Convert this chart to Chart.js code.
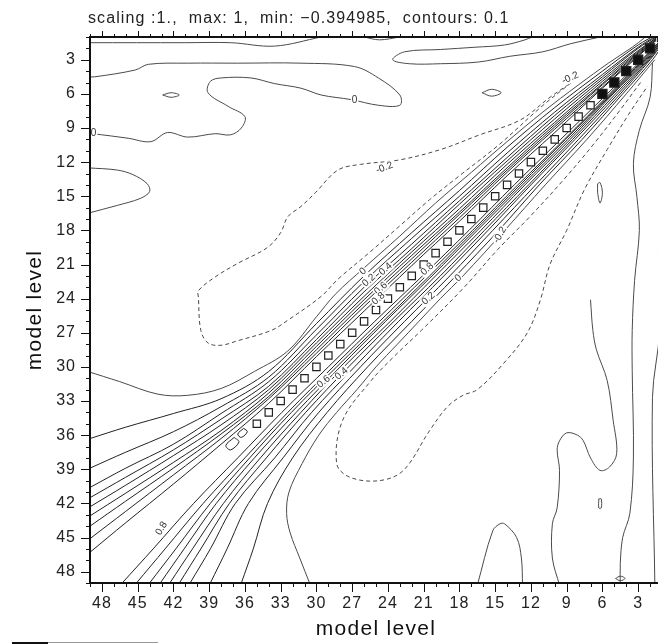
<!DOCTYPE html>
<html>
<head>
<meta charset="utf-8">
<script src="https://cdn.jsdelivr.net/npm/chart.js@4.4.1/dist/chart.umd.min.js"></script>
<style>
  html, body { margin: 0; padding: 0; overflow: hidden; background: #fff; }
  canvas { display: block; }
</style>
</head>
<body>
<canvas id="chart" width="670" height="644"></canvas>
<script>
var titleText = "scaling :1.,  max: 1,  min: \u22120.394985,  contours: 0.1";
var axisTitle = "model level";
var levelTicks = [3, 6, 9, 12, 15, 18, 21, 24, 27, 30, 33, 36, 39, 42, 45, 48];

// grid points on the diagonal (value 1)
var diagLevels = [1, 2, 3, 4, 5, 6, 7, 8, 9, 10, 11, 12, 13, 14, 15, 16, 17, 18,
  19, 20, 21, 22, 23, 24, 25, 26, 27, 28, 29, 30, 31, 32, 33, 34, 35];
var diagFilled = [1, 2, 3, 4, 5, 6];

// band contours 0.9 .. 0.1, one row per value, crossing level at each band row
var bandRows = [1.5, 3, 6, 10, 14, 18, 22, 26, 30, 34, 38, 42, 46, 49];
var bandValues = [0.9, 0.8, 0.7, 0.6, 0.5, 0.4, 0.3, 0.2, 0.1];
// above the diagonal: x = band row, y = crossing
var upperCross = [
  [1.3, 2.7, 5.5, 9.4, 13.2, 17.2, 21.1, 25.1, 29.1, 33.2, 36.8, 40.3, 43.7, 46.3],
  [1.3, 2.6, 5.4, 9.1, 12.9, 16.9, 20.8, 24.7, 28.8, 32.8, 36.3, 39.5, 42.7, 45.1],
  [1.2, 2.5, 5.2, 8.9, 12.7, 16.6, 20.5, 24.4, 28.5, 32.6, 35.9, 38.9, 41.8, 44.0],
  [1.2, 2.4, 5.1, 8.7, 12.5, 16.4, 20.2, 24.1, 28.2, 32.3, 35.6, 38.4, 41.1, 43.1],
  [1.1, 2.3, 4.9, 8.5, 12.2, 16.1, 19.9, 23.8, 27.9, 32.0, 35.1, 37.8, 40.4, 42.3],
  [1.1, 2.2, 4.7, 8.2, 11.9, 15.7, 19.6, 23.4, 27.6, 31.7, 34.6, 37.3, 39.7, 41.5],
  [1.0, 2.0, 4.5, 7.9, 11.6, 15.4, 19.2, 23.0, 27.2, 31.3, 34.1, 36.8, 38.9, 40.6],
  [0.9, 1.9, 4.3, 7.6, 11.2, 15.0, 18.7, 22.5, 26.7, 30.9, 33.5, 35.7, 37.5, 38.9],
  [0.8, 1.7, 4.0, 7.2, 10.7, 14.5, 18.2, 22.0, 26.2, 30.4, 32.8, 34.1, 35.3, 36.3]
];
// below the diagonal: x = crossing, y = band row
var lowerCross = [
  [1.3, 2.7, 5.6, 9.5, 13.4, 17.2, 21.1, 25.1, 29.0, 32.9, 36.6, 40.3, 43.7, 46.3],
  [1.3, 2.6, 5.4, 9.2, 13.1, 16.9, 20.8, 24.7, 28.6, 32.4, 36.0, 39.5, 42.7, 45.1],
  [1.2, 2.5, 5.3, 9.1, 12.9, 16.7, 20.5, 24.4, 28.3, 32.1, 35.6, 38.9, 41.8, 44.0],
  [1.2, 2.4, 5.2, 8.9, 12.7, 16.5, 20.3, 24.2, 28.0, 31.7, 35.2, 38.4, 41.1, 43.1],
  [1.1, 2.3, 5.1, 8.7, 12.5, 16.2, 20.0, 23.8, 27.7, 31.3, 34.7, 37.8, 40.4, 42.3],
  [1.1, 2.2, 4.9, 8.5, 12.2, 15.9, 19.6, 23.5, 27.3, 30.9, 34.2, 37.3, 39.7, 41.5],
  [1.0, 2.1, 4.7, 8.3, 12.0, 15.6, 19.3, 23.1, 26.8, 30.4, 33.5, 36.8, 38.9, 40.6],
  [0.9, 2.0, 4.5, 8.0, 11.6, 15.2, 18.8, 22.6, 26.3, 29.8, 32.8, 35.7, 37.5, 38.9],
  [0.8, 1.8, 4.3, 7.7, 11.3, 14.7, 18.3, 22.0, 25.7, 29.1, 32.0, 34.1, 35.3, 36.3]
];

// zero contours
var zeroLines = [
  [[49.2, 1.5], [41, 1.5], [37.2, 1.5], [33.5, 1.8], [29.6, 1.0]],
  [[26.0, 1.0], [24.7, 1.25], [23.0, 1.0]],
  [[6.2, 1.0], [8.7, 1.6], [11.0, 2.3], [13.8, 2.7], [16.4, 3.2], [19.6, 3.35], [22.2, 3.35],
   [23.6, 3.0], [22.6, 2.3], [19.6, 2.1], [16.7, 1.9], [14.2, 1.7], [12.5, 1.25], [11.9, 1.0]],
  [[49.2, 4.5], [48.6, 4.5], [45.2, 3.9], [44.1, 3.4], [40.8, 3.3], [36.6, 3.3], [31.3, 3.3],
   [26.8, 3.6], [24.8, 4.6], [23.0, 6.1], [23.0, 7.0], [24.8, 7.0], [27.1, 6.5], [29.6, 6.1],
   [31.3, 5.5], [33.5, 5.1], [35.5, 4.6], [38.0, 4.6], [38.9, 4.9], [39.1, 5.9], [37.4, 7.1],
   [36.0, 8.0], [36.3, 9.0], [37.2, 9.6], [38.5, 9.5], [40.8, 9.8], [42.5, 9.4], [43.9, 10.2],
   [45.8, 9.9], [48.8, 9.5], [49.2, 9.5]],
  [[49.2, 12.5], [46.7, 12.7], [45.4, 13.1], [44.2, 13.9], [44.0, 14.6], [44.8, 15.2],
   [46.7, 15.8], [49.2, 16.5]],
  [[49.2, 30.4], [46.5, 31.3], [43.3, 32.4], [40.8, 32.5], [38.0, 31.9], [35.2, 30.4],
   [32.4, 28.6], [30.0, 25.6], [28.4, 23.6], [26.0, 21.3], [23.0, 18.5], [20.0, 15.6],
   [17.0, 12.9], [14.0, 10.2], [11.0, 7.6], [8.0, 5.2], [5.5, 3.3], [3.5, 1.9], [2.5, 1.1]],
  [[30.5, 49.2], [31.4, 46.8], [32.2, 44.6], [32.5, 42.9], [32.3, 41.0], [31.2, 38.5],
   [29.8, 36.0], [28.3, 34.0], [26.6, 32.0], [25.0, 30.0], [23.2, 28.0], [21.4, 26.0],
   [19.6, 24.0], [17.7, 22.0], [14.2, 18.0], [10.8, 14.0], [7.3, 10.0], [4.0, 6.0], [1.6, 3.0]],
  [[7.0, 24.1], [6.8, 26.8], [6.5, 28.5], [5.6, 31.2], [5.1, 34.7], [4.8, 37.6], [5.4, 38.8],
   [6.2, 39.1], [7.0, 38.0], [7.6, 36.5], [8.1, 36.0], [9.0, 35.8], [9.6, 36.5], [9.8, 37.3],
   [9.6, 39.1], [9.8, 42.4], [10.2, 43.8], [10.2, 46.8], [9.6, 49.2]],
  [[1.8, 3.3], [2.0, 6.3], [2.9, 9.2], [3.4, 12.1], [3.1, 15.1], [2.9, 18.0], [3.3, 22.4],
   [3.5, 26.8], [3.5, 30.3], [3.4, 38.0], [3.7, 42.9], [4.3, 45.0], [4.5, 47.3], [4.5, 49.2]],
  [[1.3, 19.7], [1.2, 26.8], [1.8, 32.7], [1.6, 49.2]],
  [[16.5, 49.2], [15.2, 44.4], [14.6, 43.8], [14.2, 43.8], [13.2, 45.0], [12.8, 46.8], [12.7, 49.2]]
];

// small closed zero contours
var zeroLoops = [
  [[42.9, 6.1], [42.2, 5.9], [41.5, 6.1], [42.2, 6.3], [42.9, 6.1]],
  [[16.1, 5.9], [15.3, 5.6], [14.5, 5.9], [15.3, 6.2], [16.1, 5.9]],
  [[6.4, 13.9], [6.2, 13.8], [6.0, 14.7], [6.2, 15.6], [6.4, 14.7], [6.4, 13.9]],
  [[6.3, 41.6], [6.1, 41.6], [6.1, 42.4], [6.3, 42.4], [6.3, 41.6]],
  [[4.9, 48.6], [4.5, 48.4], [4.1, 48.6], [4.5, 48.8], [4.9, 48.6]]
];

// closed 0.9 contours where the diagonal widens
var diagLoops = [
  [[36.9, 36.2], [37.6, 36.9], [37.2, 37.3], [36.5, 36.6], [36.9, 36.2]],
  [[36.1, 35.4], [36.6, 35.9], [36.3, 36.2], [35.8, 35.7], [36.1, 35.4]]
];

// negative contours
var negLines = [
  [[8.6, 5.0], [11.2, 7.2], [14.6, 10.4], [18.0, 13.2], [20.5, 15.3], [23.0, 17.6], [25.5, 19.9],
   [28.2, 22.3], [29.6, 23.8], [32.4, 25.9], [33.8, 26.8], [36.6, 27.7],
   [38.0, 28.1], [39.1, 27.9], [39.7, 26.8], [39.9, 23.9], [39.9, 23.3], [38.5, 22.1],
   [36.6, 20.9], [34.1, 19.5], [33.0, 18.2], [32.4, 16.8], [31.3, 15.9], [30.1, 14.7],
   [28.2, 12.7], [26.3, 12.2], [23.0, 11.8], [19.6, 10.9], [16.3, 9.6], [12.9, 8.3],
   [10.4, 6.3], [8.6, 5.0]],
  [[2.8, 5.0], [4.5, 7.4], [6.8, 10.5], [9.3, 13.6], [12.0, 16.7], [14.8, 19.7], [17.6, 23.0],
   [21.2, 26.8], [23.4, 29.0], [25.4, 31.2], [27.8, 34.7], [28.3, 38.5], [27.2, 39.7],
   [24.7, 40.0], [22.7, 39.1], [20.5, 35.6], [19.0, 33.5], [17.7, 32.5], [16.5, 32.0],
   [14.3, 29.7], [12.3, 27.0], [11.2, 24.1], [10.4, 21.0], [9.0, 18.0], [7.5, 14.4],
   [5.6, 10.9], [3.8, 7.8], [2.2, 5.3]]
];

// contour labels: text, x level, y level, angle
var contourLabels = [
  ["0", 48.7, 9.5, 0], ["0", 26.8, 6.6, 0],
  ["0.8", 43.0, 44.2, -58],
  ["0.6", 29.4, 31.3, -40], ["0.4", 27.9, 30.6, -40],
  ["0", 26.1, 21.6, -42], ["0.2", 25.6, 22.4, -42], ["0.4", 24.2, 21.4, -42],
  ["0.6", 24.6, 23.1, -42], ["0.8", 24.8, 24.0, -42],
  ["0.8", 20.7, 21.4, -42], ["0", 18.1, 22.2, -42], ["0.2", 20.6, 24.0, -42],
  ["-0.2", 24.3, 12.5, -20], ["-0.2", 8.7, 4.6, -25], ["-0.2", 14.6, 18.4, -60]
];

function toPoints(list) {
  var pts = [];
  for (var i = 0; i < list.length; i++) pts.push({ x: list[i][0], y: list[i][1] });
  return pts;
}

function lineSet(points, color, dashed) {
  return {
    data: points,
    showLine: true,
    borderColor: color,
    borderWidth: 1,
    borderDash: dashed ? [4, 3] : [],
    pointRadius: 0,
    tension: 0.35,
    fill: false,
    order: 2
  };
}

var datasets = [];
for (var k = 0; k < bandValues.length; k++) {
  var upper = [];
  var lower = [];
  for (var r = 0; r < bandRows.length; r++) {
    upper.push({ x: bandRows[r], y: upperCross[k][r] });
    lower.push({ x: lowerCross[k][r], y: bandRows[r] });
  }
  datasets.push(lineSet(upper, "#222", false));
  datasets.push(lineSet(lower, "#222", false));
}
zeroLines.forEach(function (l) { datasets.push(lineSet(toPoints(l), "#4a4a4a", false)); });
zeroLoops.forEach(function (l) { datasets.push(lineSet(toPoints(l), "#4a4a4a", false)); });
diagLoops.forEach(function (l) { datasets.push(lineSet(toPoints(l), "#222", false)); });
negLines.forEach(function (l) { datasets.push(lineSet(toPoints(l), "#4a4a4a", true)); });

var diagPts = [];
var diagFill = [];
var diagSize = [];
for (var d = 0; d < diagLevels.length; d++) {
  var filled = diagFilled.indexOf(diagLevels[d]) >= 0;
  diagPts.push({ x: diagLevels[d], y: diagLevels[d] });
  diagFill.push(filled ? "#111" : "#fff");
  diagSize.push(filled ? 6.5 : 5.2);
}
datasets.push({
  data: diagPts,
  showLine: false,
  pointStyle: "rect",
  pointRadius: diagSize,
  pointBackgroundColor: diagFill,
  pointBorderColor: "#222",
  pointBorderWidth: 1.2,
  order: 0
});

var FONT = "'Liberation Sans', Arial, Helvetica, sans-serif";

var framePlugin = {
  id: "frame",
  afterDatasetsDraw: function (chart) {
    var ctx = chart.ctx;
    var a = chart.chartArea;
    var xs = chart.scales.x;
    var ys = chart.scales.y;
    ctx.save();

    // contour labels
    ctx.font = "10px " + FONT;
    ctx.textAlign = "center";
    ctx.textBaseline = "middle";
    contourLabels.forEach(function (lb) {
      var px = xs.getPixelForValue(lb[1]);
      var py = ys.getPixelForValue(lb[2]);
      ctx.save();
      ctx.translate(px, py);
      ctx.rotate(lb[3] * Math.PI / 180);
      var w = ctx.measureText(lb[0]).width;
      ctx.fillStyle = "#fff";
      ctx.fillRect(-w / 2 - 1, -5, w + 2, 10);
      ctx.fillStyle = "#333";
      ctx.fillText(lb[0], 0, 0);
      ctx.restore();
    });

    // frame
    ctx.strokeStyle = "#111";
    ctx.lineWidth = 2;
    ctx.beginPath();
    ctx.moveTo(a.right, a.top);
    ctx.lineTo(a.left, a.top);
    ctx.lineTo(a.left, a.bottom);
    ctx.lineTo(a.right, a.bottom);
    ctx.stroke();

    // ticks: every level, longer on labelled ones
    ctx.lineWidth = 1;
    ctx.beginPath();
    for (var l = 1; l <= 49; l++) {
      var major = levelTicks.indexOf(l) >= 0;
      var py = Math.round(ys.getPixelForValue(l)) + 0.5;
      var px = Math.round(xs.getPixelForValue(l)) + 0.5;
      var len = major ? 9 : 4;
      ctx.moveTo(a.left, py); ctx.lineTo(a.left - len, py);
      ctx.moveTo(px, a.bottom); ctx.lineTo(px, a.bottom + len);
      ctx.moveTo(px, a.top); ctx.lineTo(px, a.top - (major ? 6 : 3));
    }
    ctx.stroke();

    ctx.fillStyle = "#222";
    ctx.font = "16px " + FONT;
    ctx.letterSpacing = "1px";
    ctx.textBaseline = "middle";
    levelTicks.forEach(function (t) {
      ctx.textAlign = "right";
      ctx.fillText(String(t), a.left - 14, ys.getPixelForValue(t));
      ctx.textAlign = "center";
      ctx.fillText(String(t), xs.getPixelForValue(t), a.bottom + 21);
    });

    // titles
    ctx.textAlign = "left";
    ctx.textBaseline = "alphabetic";
    ctx.font = "16px " + FONT;
    ctx.letterSpacing = "1.1px";
    ctx.fillText(titleText, 88, 23);

    ctx.font = "21px " + FONT;
    ctx.letterSpacing = "1.3px";
    ctx.textAlign = "center";
    ctx.textBaseline = "middle";
    ctx.fillStyle = "#111";
    ctx.fillText(axisTitle, (a.left + a.right) / 2, 629);
    ctx.save();
    ctx.translate(35, (a.top + a.bottom) / 2);
    ctx.rotate(-Math.PI / 2);
    ctx.fillText(axisTitle, 0, 0);
    ctx.restore();
    ctx.letterSpacing = "0px";

    // label bar stub at the bottom edge
    ctx.fillStyle = "#111";
    ctx.fillRect(12, 642, 36, 2);
    ctx.fillStyle = "#999";
    ctx.fillRect(48, 642, 110, 1);

    ctx.restore();
  }
};

new Chart(document.getElementById("chart"), {
  type: "scatter",
  data: { datasets: datasets },
  options: {
    responsive: false,
    animation: false,
    events: [],
    layout: { padding: { left: 90, right: 8, top: 37, bottom: 61 } },
    plugins: { legend: { display: false }, tooltip: { enabled: false } },
    scales: {
      x: { type: "linear", display: false, min: 1, max: 49, reverse: true },
      y: { type: "linear", display: false, min: 1, max: 49, reverse: true }
    }
  },
  plugins: [framePlugin]
});
</script>
</body>
</html>
